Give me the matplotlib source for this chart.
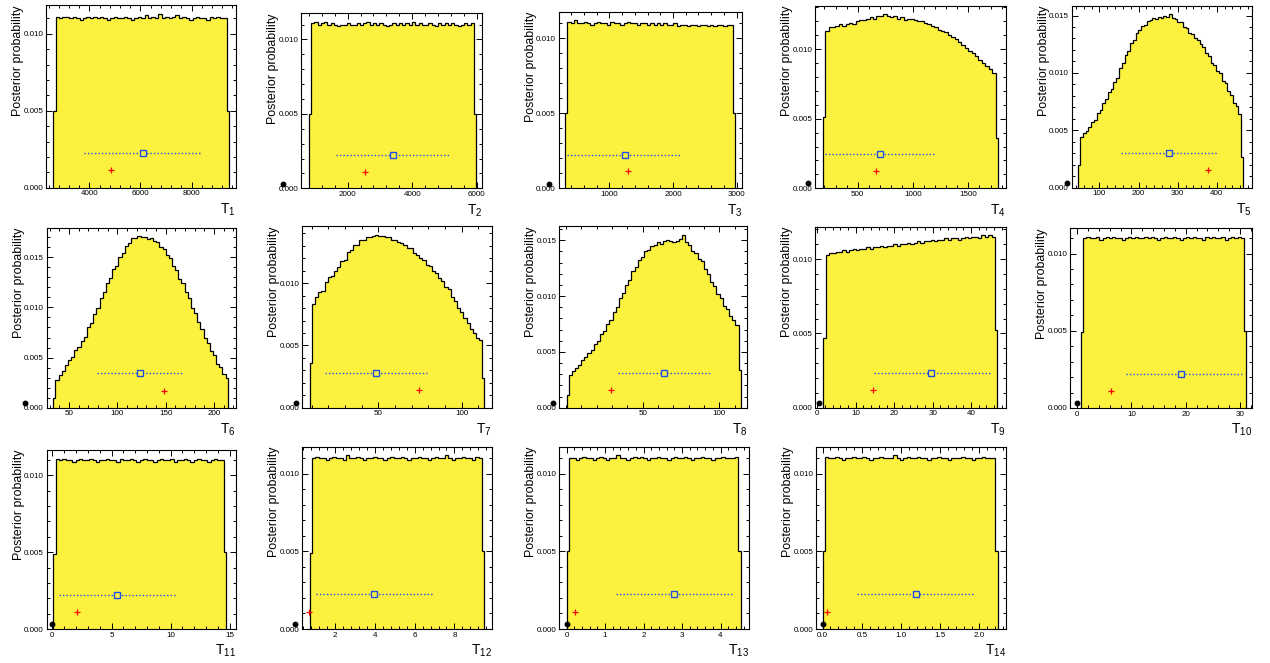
import numpy as np
import matplotlib
matplotlib.use('Agg')
import matplotlib.pyplot as plt
from matplotlib.ticker import AutoMinorLocator, FormatStrFormatter

plt.rcParams['font.family'] = ['Liberation Sans', 'DejaVu Sans']
plt.rcParams['mathtext.default'] = 'regular'

# posterior histograms T1..T14, bin contents in units of 1e-4
# (first and last entries are the half filled edge bins)
hist_lo = [2588, 801, 304, 187, 46, 33.8, 9.0, 0.4, 1.56, 0.75, 0.08, 0.74, 0.0, 0.0]
hist_hi = [9464, 5979, 2979, 1765, 467, 214.1, 113.6, 113.9, 46.8, 31.1, 14.71, 9.5, 4.52, 2.234]

h1 = [50, 111, 110, 111, 111, 110, 111, 110, 109, 110, 111, 110, 111, 110, 111, 110, 109, 110, 111, 110, 110,
      111, 110, 109, 110, 111, 110, 112, 110, 111, 110, 113, 110, 111, 110, 111, 112, 110, 111, 110, 109,
      110, 111, 110, 110, 109, 111, 110, 111, 110, 110, 50]
h2 = [50, 111, 112, 110, 111, 112, 110, 111, 110, 109, 110, 110, 111, 110, 110, 111, 110, 111, 112, 110, 111,
      110, 111, 110, 109, 110, 111, 110, 111, 110, 111, 110, 112, 110, 111, 110, 110, 111, 110, 109, 111,
      110, 111, 110, 111, 110, 109, 110, 111, 110, 111, 50]
h3 = [50, 111, 110, 112, 110, 110, 111, 110, 109, 110, 111, 110, 110, 109, 111, 110, 110, 109, 110, 111, 110,
      110, 109, 110, 110, 109, 110, 109, 110, 109, 110, 109, 109, 110, 108, 109, 109, 108, 109, 109, 108,
      109, 109, 108, 109, 108, 109, 109, 108, 109, 109, 50]
h4 = [51, 113, 116, 116, 117, 118, 117, 118, 119, 118, 120, 121, 121, 122, 123, 122, 124, 124, 125, 124, 123,
      124, 122, 123, 121, 122, 122, 121, 120, 120, 119, 118, 117, 116, 114, 113, 112, 110, 109, 107, 105,
      103, 101, 99, 97, 95, 92, 90, 88, 86, 83, 36]
h5 = [20, 44, 48, 49, 53, 57, 59, 65, 68, 74, 77, 83, 86, 92, 96, 104, 109, 116, 119, 126, 129,
      135, 137, 141, 142, 145, 146, 148, 147, 149, 148, 150, 149, 151, 148, 147, 144, 144, 140, 139, 135,
      134, 130, 129, 125, 123, 117, 115, 109, 107, 102, 100, 93, 91, 84, 81, 74, 71, 64, 27]
h6 = [10, 28, 33, 37, 43, 48, 51, 58, 61, 67, 71, 80, 84, 93, 99, 109, 115, 124, 129, 138, 141,
      150, 154, 161, 164, 169, 169, 171, 170, 170, 168, 169, 166, 165, 160, 158, 152, 149, 141, 137, 128,
      124, 115, 109, 99, 94, 85, 79, 70, 65, 57, 53, 44, 41, 34, 30]
h7 = [36, 83, 89, 93, 94, 101, 105, 106, 110, 113, 118, 119, 125, 127, 131, 131, 135, 135, 137, 137, 138,
      139, 138, 138, 137, 137, 135, 135, 133, 132, 131, 128, 128, 124, 123, 120, 119, 115, 114, 110, 108,
      104, 102, 97, 95, 89, 86, 80, 77, 72, 68, 63, 60, 56, 54, 24]
h8 = [11, 29, 33, 36, 38, 43, 45, 49, 52, 57, 60, 66, 69, 75, 79, 86, 90, 98, 103, 110, 114,
      122, 126, 132, 135, 140, 141, 145, 146, 148, 147, 149, 150, 149, 148, 149, 151, 155, 148, 146, 140,
      139, 133, 131, 124, 120, 113, 109, 102, 98, 91, 88, 82, 79, 74, 34]
h9 = [47, 103, 104, 104, 105, 105, 106, 105, 106, 107, 106, 107, 107, 108, 107, 108, 108, 109, 108, 109, 109,
      110, 109, 110, 110, 111, 110, 111, 112, 111, 112, 112, 113, 112, 113, 113, 114, 113, 114, 114, 113,
      114, 115, 114, 115, 115, 114, 116, 115, 116, 115, 52]
h10 = [49, 110, 111, 110, 110, 111, 109, 110, 111, 110, 111, 110, 110, 109, 110, 111, 110, 111, 110, 110, 111,
       110, 111, 110, 109, 110, 111, 110, 110, 111, 110, 109, 110, 111, 110, 111, 110, 110, 109, 111, 110,
       111, 110, 110, 111, 109, 110, 111, 110, 111, 110, 50]
h11 = [49, 111, 110, 111, 110, 110, 109, 110, 111, 110, 110, 111, 110, 109, 110, 110, 111, 110, 110, 109, 111,
       110, 110, 111, 110, 109, 110, 111, 110, 110, 109, 110, 111, 110, 110, 111, 109, 110, 110, 111, 110,
       109, 110, 111, 110, 110, 109, 110, 111, 110, 110, 50]
h12 = [49, 110, 111, 110, 110, 109, 110, 111, 110, 110, 109, 112, 110, 110, 111, 110, 109, 110, 110, 111, 110,
       110, 109, 110, 111, 110, 110, 111, 110, 109, 110, 110, 111, 110, 110, 109, 110, 111, 110, 110, 112,
       110, 109, 110, 110, 111, 110, 110, 109, 111, 110, 50]
h13 = [50, 110, 110, 109, 110, 111, 110, 110, 109, 110, 111, 110, 109, 110, 110, 112, 110, 110, 109, 110, 111,
       110, 111, 110, 109, 110, 110, 111, 110, 110, 109, 110, 111, 110, 110, 111, 110, 109, 110, 110, 111,
       110, 110, 109, 110, 110, 111, 110, 110, 110, 111, 50]
h14 = [50, 111, 110, 110, 111, 110, 109, 110, 110, 111, 110, 110, 111, 110, 109, 110, 110, 111, 110, 110, 110,
       112, 110, 109, 110, 111, 110, 110, 111, 110, 110, 109, 110, 110, 111, 110, 110, 109, 110, 110, 110,
       111, 110, 110, 109, 110, 110, 111, 110, 110, 110, 50]
hists = [h1, h2, h3, h4, h5, h6, h7, h8, h9, h10, h11, h12, h13, h14]

# blue marker with its interval, red cross, black dot (x positions)
blue_x = [6092, 3395, 1241, 702, 279, 123.4, 48.6, 63.9, 29.7, 19.1, 5.5, 3.98, 2.8, 1.19]
blue_lo = [3791, 1638, 330, 205, 155, 78.6, 18, 34.1, 14.8, 9.0, 0.6, 1.03, 1.28, 0.434]
blue_hi = [8366, 5132, 2120, 1199, 403, 166.6, 79, 93.9, 44.9, 30.6, 10.4, 6.9, 4.3, 1.92]
red_x = [4837, 2537, 1298, 663, 377, 148.6, 74.6, 29.3, 14.4, 6.2, 2.1, 0.71, 0.22, 0.05]
black_x = [0, 0, 52, 54, 18, 4.5, 0.6, -8.7, 0.4, 0, 0, 0, 0, 0]

# axis ranges and labelled ticks
x_min = [2301, 553, 204, 114.5, 29, 26.9, 4.4, -4.3, -0.6, -1.3, -0.48, 0.36, -0.19, -0.085]
x_max = [9739, 6176, 3089, 1837, 490, 222.4, 118, 118.3, 49.0, 32.2, 15.5, 9.9, 4.74, 2.336]
x_ticks = [[4000, 6000, 8000], [2000, 4000, 6000], [1000, 2000, 3000], [500, 1000, 1500],
           [100, 200, 300, 400], [50, 100, 150, 200], [50, 100], [50, 100], [0, 10, 20, 30, 40],
           [0, 10, 20, 30], [0, 5, 10, 15], [2, 4, 6, 8], [0, 1, 2, 3, 4], [0.0, 0.5, 1.0, 1.5, 2.0]]
x_names = ['T$_{%d}$' % (k + 1) for k in range(14)]

# frame of each pad in pixels: left, top, right, bottom
frames = [(46, 5, 236, 187.7), (301, 13.3, 482.3, 188.3), (558.7, 11.7, 742.3, 188.3),
          (815, 5.7, 1005.7, 188.3), (1071.7, 5.7, 1252, 187.7),
          (46.7, 227.7, 235.7, 407.7), (302.3, 226, 491.7, 407.7), (559.3, 226, 747.3, 407.7),
          (815, 226.7, 1005.7, 407.7), (1070, 228, 1252, 408),
          (46.7, 450, 235.7, 629), (302.3, 446.7, 492.3, 629), (559.3, 446.7, 749, 629),
          (816, 446.7, 1005.7, 629)]

W, H = 1270, 663
fill_col = '#fdf13f'
blue = '#1f4fe8'


def bin_edges(lo, hi, n, f=0.65):
    # edge bins are narrower than the inner ones
    w = (hi - lo) / (n - 2 + 2 * f)
    inner = lo + f * w + w * np.arange(n - 1)
    return np.concatenate([[lo], inner, [hi]])


fig = plt.figure(figsize=(W / 100, H / 100), dpi=100)

for i in range(14):
    L, T, R, B = frames[i]
    ax = fig.add_axes([L / W, 1 - B / H, (R - L) / W, (B - T) / H])
    vals = np.array(hists[i]) * 1e-4
    edges = bin_edges(hist_lo[i], hist_hi[i], len(vals))
    peak = vals.max()

    ax.stairs(vals, edges, fill=True, color=fill_col, lw=0, zorder=1)
    ax.stairs(vals, edges, baseline=0, color='black', lw=0.9, zorder=2)

    ax.plot([blue_lo[i], blue_hi[i]], [0.2 * peak] * 2, ls=(0, (1, 1.5)), color=blue, lw=1.0, zorder=3)
    ax.plot(blue_x[i], 0.2 * peak, marker='s', ms=4.2, mfc=fill_col, mec=blue, mew=1.0, zorder=4)
    ax.plot(red_x[i], 0.1 * peak, marker='+', ms=5, color='red', mew=0.9, zorder=4)
    ax.plot(black_x[i], 0.028 * peak, marker='o', ms=3.2, color='black', zorder=5, clip_on=False)

    ax.set_xlim(x_min[i], x_max[i])
    ax.set_ylim(0, 1.05 * peak)
    ax.set_xticks(x_ticks[i])
    if i == 13:
        ax.xaxis.set_major_formatter(FormatStrFormatter('%.1f'))
    ax.set_yticks([v for v in [0, 0.005, 0.010, 0.015] if v <= 1.05 * peak])
    ax.yaxis.set_major_formatter(FormatStrFormatter('%.3f'))
    ax.xaxis.set_minor_locator(AutoMinorLocator(5))
    ax.yaxis.set_minor_locator(AutoMinorLocator(5))
    ax.tick_params(which='both', direction='in', top=True, right=True, labelsize=5.8,
                   colors='black', width=0.7)
    ax.tick_params(which='major', length=4.0, pad=2)
    ax.tick_params(which='minor', length=2.0)
    for s in ax.spines.values():
        s.set_linewidth(0.8)

    ax.text(-28 / (R - L), 1.0, 'Posterior probability', rotation=90, ha='center', va='top',
            fontsize=8.9, transform=ax.transAxes)
    ax.text(1.0, -14 / (B - T), x_names[i], ha='right', va='top', fontsize=10,
            transform=ax.transAxes)

fig.savefig('out.png', dpi=100)
